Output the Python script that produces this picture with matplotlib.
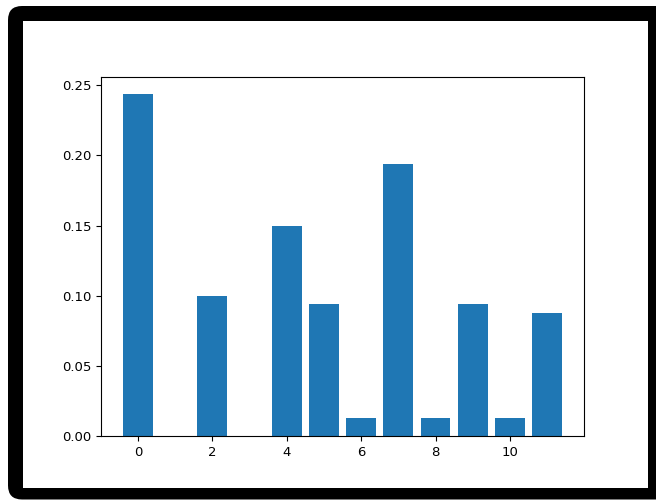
import matplotlib
matplotlib.use("Agg")
import matplotlib.pyplot as plt
from matplotlib.patches import FancyBboxPatch, Rectangle
from matplotlib.transforms import IdentityTransform

categories = list(range(12))
values = [0.24375, 0.0, 0.1, 0.0, 0.15, 0.09375, 0.0125, 0.19375, 0.0125, 0.09375, 0.0125, 0.0875]

W, H = 656, 501
fig = plt.figure(figsize=(W / 100, H / 100), dpi=100)
fig.patch.set_facecolor("white")

# black rounded frame (pixel coordinates, origin bottom-left)
frame = FancyBboxPatch((8, 1.5), 690, 493.5,
                       boxstyle="round,pad=0,rounding_size=14",
                       transform=IdentityTransform(), facecolor="black",
                       edgecolor="none", zorder=-3)
fig.patches.append(frame)
inner = Rectangle((23, 13), 648 - 23, 480 - 13,
                  transform=IdentityTransform(), facecolor="white",
                  edgecolor="none", zorder=-2)
fig.patches.append(inner)

ax = fig.add_axes([101 / W, (H - 436) / H, (584 - 101) / W, (436 - 77) / H])
ax.set_zorder(1)
ax.bar(categories, values, color="#1f77b4")
ax.tick_params(labelsize=9.5)
for s in ax.spines.values():
    s.set_linewidth(0.8)

fig.savefig("out.png", dpi=100)
